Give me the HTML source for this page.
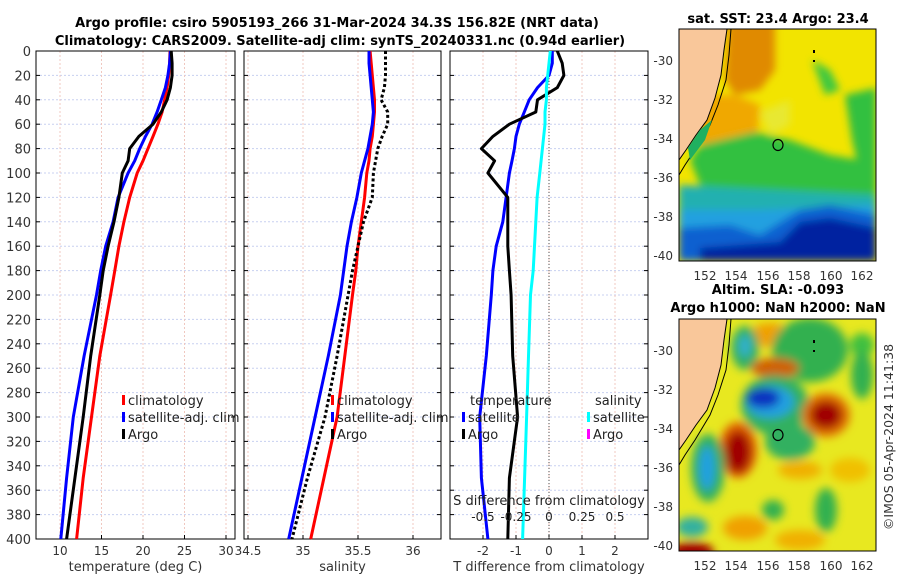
<!DOCTYPE html>
<html><head><meta charset="utf-8"><style>
body{margin:0;background:#fff}
svg{display:block;font-family:"DejaVu Sans","Liberation Sans",sans-serif}
</style></head><body>
<svg id="fig" width="900" height="580" viewBox="0 0 900 580" xmlns="http://www.w3.org/2000/svg">
<defs>
<filter id="blur4" x="-20%" y="-20%" width="140%" height="140%"><feGaussianBlur stdDeviation="4"/></filter>
<filter id="blur5" x="-20%" y="-20%" width="140%" height="140%"><feGaussianBlur stdDeviation="4.5"/></filter>
<clipPath id="clipTop"><rect x="679" y="29" width="197" height="232"/></clipPath>
<clipPath id="clipBot"><rect x="679" y="319" width="197" height="232"/></clipPath>
</defs>
<g font-weight="bold" font-size="13" text-anchor="middle">
<text x="337" y="27">Argo profile: csiro 5905193_266 31-Mar-2024 34.3S 156.82E (NRT data)</text>
<text x="340" y="45">Climatology: CARS2009. Satellite-adj clim: synTS_20240331.nc (0.94d earlier)</text>
</g>
<g id="panels"></g>

<!-- top map -->
<g>
<text x="778" y="23" font-weight="bold" font-size="13" text-anchor="middle">sat. SST: 23.4 Argo: 23.4</text>
<g clip-path="url(#clipTop)">
<rect x="679" y="29" width="197" height="232" fill="#f2e400"/>
<g filter="url(#blur4)">
<polygon points="728,20 775,20 775,70 760,90 735,95 725,80" fill="#e08a00"/>
<polygon points="705,95 735,95 760,105 757,140 752,185 730,195 705,165 695,130" fill="#f0a800"/>
<polygon points="760,112 790,100 790,125 770,135" fill="#e8e830"/>
<polygon points="812,60 830,70 840,90 825,95" fill="#40c840"/>
<polygon points="845,95 876,88 876,195 860,175 852,140" fill="#30c040"/>
<polygon points="755,132 790,140 830,155 860,160 876,170 876,200 840,195 790,195 760,198 745,190 725,195 700,185 690,160 700,145" fill="#30c040"/>
<polygon points="679,185 876,195 876,261 679,261" fill="#20b0b0"/>
<polygon points="679,210 760,210 876,205 876,261 679,261" fill="#20a0e0"/>
<polygon points="679,228 730,225 760,235 800,210 830,205 876,215 876,261 679,261" fill="#1060d0"/>
<polygon points="700,248 780,242 800,222 830,218 876,228 876,261 700,261" fill="#0020a0"/>
</g>
<polygon points="679,29 727,29 724,50 721,75 715,98 707,120 696,135 686,150 679,160" fill="#f9c79a"/>
<polyline points="727,29 724,50 721,75 715,98 707,120 696,135 686,150 679,160" fill="none" stroke="#000" stroke-width="1"/>
<polyline points="731,29 729,55 726,80 718,105 710,125 695,150 685,165 679,175" fill="none" stroke="#000" stroke-width="1"/>
<polygon points="688,148 700,130 712,120 705,140 690,160" fill="#20b060"/>
<ellipse cx="778" cy="145" rx="5" ry="5.5" fill="none" stroke="#000" stroke-width="1.2"/>
<rect x="813" y="50" width="2" height="3" fill="#000"/><rect x="813" y="60" width="2" height="2" fill="#000"/>
</g>
<rect x="679" y="29" width="197" height="232" fill="none" stroke="#000" stroke-width="1"/>
<g font-size="12" fill="#333" text-anchor="end">
<text x="673" y="65">-30</text><text x="673" y="104">-32</text><text x="673" y="143">-34</text><text x="673" y="182">-36</text><text x="673" y="221">-38</text><text x="673" y="260">-40</text>
</g>
<g font-size="12" fill="#333" text-anchor="middle">
<text x="705" y="280">152</text><text x="736" y="280">154</text><text x="768" y="280">156</text><text x="799" y="280">158</text><text x="831" y="280">160</text><text x="862" y="280">162</text>
</g>
</g>

<!-- bottom map -->
<g>
<text x="778" y="294" font-weight="bold" font-size="13" text-anchor="middle">Altim. SLA: -0.093</text>
<text x="778" y="312" font-weight="bold" font-size="13" text-anchor="middle">Argo h1000: NaN h2000: NaN</text>
<g clip-path="url(#clipBot)">
<rect x="679" y="319" width="197" height="232" fill="#e8e820"/>
<g filter="url(#blur5)">
<ellipse cx="770" cy="335" rx="20" ry="12" fill="#f0a000"/>
<ellipse cx="810" cy="350" rx="38" ry="32" fill="#30b050"/>
<ellipse cx="862" cy="345" rx="12" ry="12" fill="#40c040"/>
<ellipse cx="745" cy="348" rx="14" ry="22" fill="#30b060"/>
<ellipse cx="745" cy="346" rx="6" ry="11" fill="#30b0d0"/>
<ellipse cx="775" cy="368" rx="24" ry="10" fill="#d06000"/>
<ellipse cx="775" cy="405" rx="34" ry="30" fill="#30b060"/>
<ellipse cx="790" cy="442" rx="25" ry="18" fill="#30b060"/>
<ellipse cx="770" cy="402" rx="24" ry="16" fill="#20a0e0"/>
<ellipse cx="763" cy="398" rx="17" ry="10" fill="#1030c0"/>
<ellipse cx="826" cy="415" rx="24" ry="22" fill="#e07000"/>
<ellipse cx="826" cy="415" rx="16" ry="14" fill="#a00000"/>
<ellipse cx="738" cy="450" rx="19" ry="28" fill="#e06000"/>
<ellipse cx="738" cy="452" rx="13" ry="21" fill="#a00000"/>
<ellipse cx="708" cy="468" rx="17" ry="34" fill="#30b060"/>
<ellipse cx="707" cy="468" rx="8" ry="22" fill="#20a0e0"/>
<ellipse cx="862" cy="375" rx="11" ry="24" fill="#30b050"/>
<ellipse cx="826" cy="510" rx="11" ry="22" fill="#30b050"/>
<ellipse cx="773" cy="510" rx="11" ry="10" fill="#30b050"/>
<ellipse cx="692" cy="527" rx="16" ry="10" fill="#30b0a0"/>
<ellipse cx="692" cy="552" rx="22" ry="10" fill="#a00000"/>
<ellipse cx="745" cy="528" rx="22" ry="12" fill="#f0a000"/>
<ellipse cx="800" cy="470" rx="22" ry="9" fill="#f0b000"/>
<ellipse cx="850" cy="470" rx="20" ry="12" fill="#f0c000"/>
<ellipse cx="800" cy="540" rx="25" ry="10" fill="#f0b000"/>
</g>
<polygon points="679,319 727,319 724,340 721,365 715,388 707,410 696,425 686,440 679,450" fill="#f9c79a"/>
<polyline points="727,319 724,340 721,365 715,388 707,410 696,425 686,440 679,450" fill="none" stroke="#000" stroke-width="1"/>
<polyline points="731,319 729,345 726,370 718,395 710,415 695,440 685,455 679,465" fill="none" stroke="#000" stroke-width="1"/>
<ellipse cx="778" cy="435" rx="5" ry="5.5" fill="none" stroke="#000" stroke-width="1.2"/>
<rect x="813" y="340" width="2" height="3" fill="#000"/><rect x="813" y="350" width="2" height="2" fill="#000"/>
</g>
<rect x="679" y="319" width="197" height="232" fill="none" stroke="#000" stroke-width="1"/>
<g font-size="12" fill="#333" text-anchor="end">
<text x="673" y="355">-30</text><text x="673" y="394">-32</text><text x="673" y="433">-34</text><text x="673" y="472">-36</text><text x="673" y="511">-38</text><text x="673" y="550">-40</text>
</g>
<g font-size="12" fill="#333" text-anchor="middle">
<text x="705" y="570">152</text><text x="736" y="570">154</text><text x="768" y="570">156</text><text x="799" y="570">158</text><text x="831" y="570">160</text><text x="862" y="570">162</text>
</g>
</g>
<text transform="translate(893,437) rotate(-90)" font-size="12.5" fill="#333" text-anchor="middle">©IMOS 05-Apr-2024 11:41:38</text>
</svg>
<script>
const depths = [0,10,20,30,40,50,60,70,80,90,100,120,140,160,180,200,250,300,350,400];
const tempClim = [23.25,23.2,23.1,22.9,22.6,22.3,21.8,21.2,20.6,20.0,19.3,18.4,17.7,17.1,16.6,16.1,14.8,13.8,12.8,12.0];
const tempSat = [23.3,23.2,23.0,22.7,22.2,21.7,21.1,20.3,19.6,19.0,18.2,17.0,16.4,15.5,14.9,14.4,12.9,11.6,10.8,10.1];
const tempArgo = [23.4,23.5,23.5,23.3,22.9,22.2,21.2,19.5,18.4,18.2,17.5,17.1,16.5,15.8,15.2,14.8,13.7,12.8,11.8,10.8];
const salClim = [35.61,35.62,35.63,35.64,35.65,35.65,35.64,35.63,35.61,35.60,35.58,35.56,35.53,35.50,35.48,35.45,35.38,35.31,35.19,35.07];
const salSat = [35.60,35.60,35.61,35.62,35.63,35.64,35.63,35.61,35.59,35.56,35.53,35.49,35.44,35.40,35.37,35.34,35.23,35.11,34.99,34.87];
const salArgo = [35.75,35.75,35.75,35.74,35.71,35.77,35.77,35.72,35.68,35.66,35.64,35.63,35.55,35.50,35.45,35.41,35.31,35.20,35.04,34.90];
const tDiffSat = [0.1,0.1,0.0,-0.35,-0.6,-0.75,-0.9,-1.0,-1.05,-1.12,-1.2,-1.3,-1.4,-1.6,-1.7,-1.75,-1.9,-2.1,-2.05,-1.85];
const tDiffArgo = [0.25,0.4,0.45,0.25,-0.35,-0.4,-1.2,-1.7,-2.05,-1.65,-1.85,-1.25,-1.25,-1.25,-1.2,-1.15,-1.1,-0.95,-1.2,-1.25];
const sDiffSat = [0.01,0.0,-0.01,-0.02,-0.02,-0.03,-0.03,-0.04,-0.05,-0.06,-0.07,-0.09,-0.1,-0.11,-0.12,-0.14,-0.155,-0.17,-0.185,-0.2];
const depthTicks = [0,20,40,60,80,100,120,140,160,180,200,220,240,260,280,300,320,340,360,380,400];
const tempTicks = [10,15,20,25,30];
const salTicks = [34.5,35,35.5,36];
const tDiffTicks = [-2,-1,0,1,2];
const sDiffTicks = [-0.5,-0.25,0,0.25,0.5];
const sDiffTickLabels = ['-0.5','-0.25','0','0.25','0.5'];

const NS='http://www.w3.org/2000/svg';
const root=document.getElementById('panels');
const Y0=51, Y1=539;
const yS=d=>Y0+(d/400)*(Y1-Y0);
const xT=v=>60+(v-10)*8.3;
const xS=v=>303+(v-35)*110;
const xTD=v=>549+v*33;
const xSD=v=>549+v*132;
function mk(tag,attrs,parent){const e=document.createElementNS(NS,tag);for(const k in attrs)e.setAttribute(k,attrs[k]);(parent||root).appendChild(e);return e;}
function txt(x,y,s,attrs,parent){const e=mk('text',Object.assign({x:x,y:y},attrs),parent);e.textContent=s;return e;}

function panel(name,L,R,ticks,xf,labels,xlabel){
  const g=mk('g',{});
  
  
  depthTicks.forEach(d=>{mk('line',{x1:L,x2:R,y1:yS(d),y2:yS(d),stroke:'#c8d0f0','stroke-width':1,'stroke-dasharray':'2,2'},g);});
  ticks.forEach((t,i)=>{const x=xf(t);mk('line',{x1:x,x2:x,y1:Y0,y2:Y1,stroke:'#f0c8c0','stroke-width':1,'stroke-dasharray':'2,2'},g);
    mk('line',{x1:x,x2:x,y1:Y1,y2:Y1-4,stroke:'#000'},g);
    const lb=txt(x,Y1+16,labels[i],{'font-size':12,fill:'#333','text-anchor':'middle'},g);
    
    
  });
  depthTicks.forEach(d=>{mk('line',{x1:L,x2:L+4,y1:yS(d),y2:yS(d),stroke:'#000'},g);mk('line',{x1:R,x2:R-4,y1:yS(d),y2:yS(d),stroke:'#000'},g);});
  mk('rect',{x:L,y:Y0,width:R-L,height:Y1-Y0,fill:'none',stroke:'#000','stroke-width':1},g);
  const xl=txt((L+R)/2,Y1+32,xlabel,{'font-size':13,fill:'#333','text-anchor':'middle'},g);
  
  
  return g;
}
function line(g,vals,xf,color,nm,dash){
  const pts=vals.map((v,i)=>xf(v).toFixed(1)+','+yS(depths[i]).toFixed(1)).join(' ');
  const p=mk('polyline',{points:pts,fill:'none',stroke:color,'stroke-width':3,'stroke-linejoin':'round'},g);
  if(dash)p.setAttribute('stroke-dasharray',dash);
  
  
}
function legendItem(g,x,y,color,label){
  mk('rect',{x:x,y:y-10,width:3,height:10,fill:color},g);
  const t=txt(x+6,y,label,{'font-size':13,fill:'#222'},g);
  
  
}

const g1=panel('temperature',36,235,tempTicks,xT,tempTicks.map(String),'temperature (deg C)');
depthTicks.forEach(d=>{const t=txt(31,yS(d)+5,String(d),{'font-size':13,fill:'#333','text-anchor':'end'},g1);
  
  });
line(g1,tempClim,xT,'#ff0000','temp-climatology-line');
line(g1,tempSat,xT,'#0000ff','temp-satellite-line');
line(g1,tempArgo,xT,'#000000','temp-argo-line');
legendItem(g1,122,405,'#ff0000','climatology');
legendItem(g1,122,422,'#0000ff','satellite-adj. clim');
legendItem(g1,122,439,'#000000','Argo');

const g2=panel('salinity',244,441,salTicks,xS,['34.5','35','35.5','36'],'salinity');
line(g2,salClim,xS,'#ff0000','sal-climatology-line');
line(g2,salSat,xS,'#0000ff','sal-satellite-line');
line(g2,salArgo,xS,'#000000','sal-argo-line','3,2.5');
legendItem(g2,331,405,'#ff0000','climatology');
legendItem(g2,331,422,'#0000ff','satellite-adj. clim');
legendItem(g2,331,439,'#000000','Argo');

const g3=panel('difference',450,648,tDiffTicks,xTD,tDiffTicks.map(String),'T difference from climatology');
mk('line',{x1:549,x2:549,y1:Y0,y2:Y1,stroke:'#555','stroke-width':1,'stroke-dasharray':'1,2'},g3);
line(g3,tDiffSat,xTD,'#0000ff','tdiff-satellite-line');
line(g3,tDiffArgo,xTD,'#000000','tdiff-argo-line');
line(g3,sDiffSat,xSD,'#00ffff','sdiff-satellite-line');
txt(470,405,'temperature',{'font-size':13,fill:'#222'},g3);
txt(595,405,'salinity',{'font-size':13,fill:'#222'},g3);
legendItem(g3,462,422,'#0000ff','satellite');
legendItem(g3,462,439,'#000000','Argo');
legendItem(g3,587,422,'#00ffff','satellite');
legendItem(g3,587,439,'#ff00ff','Argo');
const sdt=txt(549,505,'S difference from climatology',{'font-size':13,fill:'#222','text-anchor':'middle'},g3);


sDiffTicks.forEach((s,i)=>{const t=txt(xSD(s),521,sDiffTickLabels[i],{'font-size':12,fill:'#222','text-anchor':'middle'},g3);
  
  });
</script>
</body></html>
